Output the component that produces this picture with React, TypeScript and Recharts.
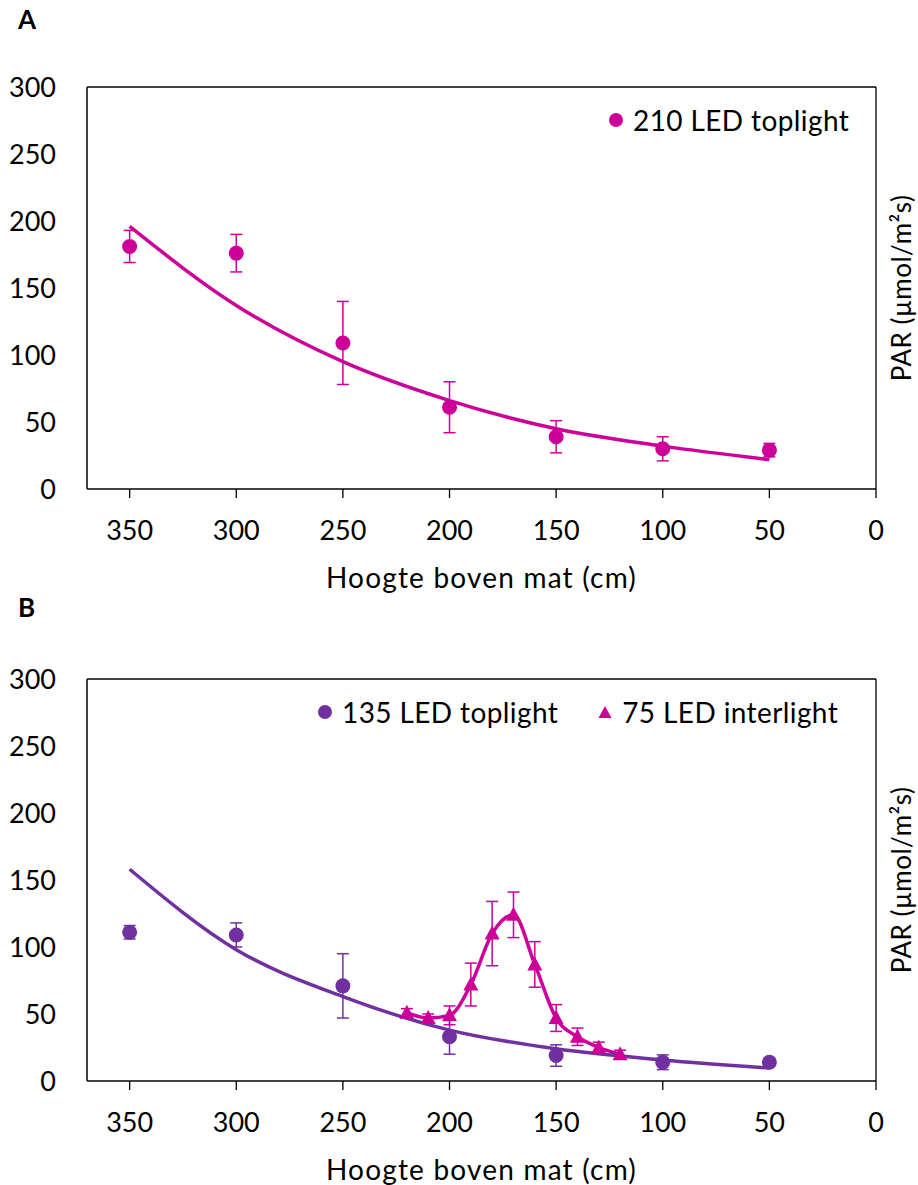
import {
  ComposedChart,
  Scatter,
  Line,
  XAxis,
  YAxis,
  ErrorBar,
  ReferenceLine,
  Legend,
} from "recharts";

// heights above the mat (cm)
const heights = [350, 300, 250, 200, 150, 100, 50];

// A: 210 LED toplight
const parA = [181, 176, 109, 61, 39, 30, 29];
const errA = [12, 14, 31, 19, 12, 9, 5];
const fitA = [196, 137, 95, 66, 45, 32, 22];

// B: 135 LED toplight
const parB = [111, 109, 71, 33, 19, 14, 14];
const errB = [5, 9, 24, 13, 8, 5.5, 3];
const fitB = [158, 98, 63, 38, 24, 15.7, 9.7];

// B: 75 LED interlight
const interHeights = [220, 210, 200, 190, 180, 170, 160, 150, 140, 130, 120];
const interPar = [51, 47, 49, 72, 110, 124, 87, 47, 33, 25, 20];
const interErr = [3, 3, 7, 16, 24, 17, 17, 10, 6.5, 4, 3];

const xTicks = [350, 300, 250, 200, 150, 100, 50, 0];
const yTicks = [0, 50, 100, 150, 200, 250, 300];

const MAGENTA = "#CC0099";
const PURPLE = "#7030A0";
const FONT = "Lato, 'Noto Sans', sans-serif";
const FS = 27;

const toPoints = (xs: number[], ys: number[], errs?: number[]) =>
  xs.map((x, i) => ({ x, y: ys[i], err: errs ? errs[i] : 0 }));

function Dot(props: any) {
  const { cx, cy, fill } = props;
  return <circle cx={cx} cy={cy} r={7.5} fill={fill} />;
}

function Tri(props: any) {
  const { cx, cy, fill } = props;
  return (
    <polygon
      points={`${cx},${cy - 8} ${cx + 7.5},${cy + 6} ${cx - 7.5},${cy + 6}`}
      fill={fill}
    />
  );
}

function LegendContent(props: any) {
  const items = (props.payload || []).filter((p: any) => p.type !== "none");
  return (
    <div
      style={{
        display: "flex",
        alignItems: "center",
        gap: 39,
        fontSize: 28,
        letterSpacing: 0.4,
        lineHeight: "30px",
        color: "#000",
        whiteSpace: "nowrap",
      }}
    >
      {items.map((p: any) => (
        <span key={p.value} style={{ display: "flex", alignItems: "center" }}>
          <svg width={16} height={16} style={{ marginRight: 9 }}>
            {p.type === "triangle" ? (
              <polygon points="8,2 14.5,14 1.5,14" fill={p.color} />
            ) : (
              <circle cx={8} cy={8} r={7} fill={p.color} />
            )}
          </svg>
          {p.value}
        </span>
      ))}
    </div>
  );
}

function frame(legendLeft: number) {
  const tickStyle = { fill: "#000", fontSize: FS };
  return [
    <XAxis
      key="x"
      dataKey="x"
      type="number"
      domain={[0, 370]}
      reversed
      ticks={xTicks}
      height={104}
      tick={tickStyle}
      tickSize={9}
      tickMargin={23}
      axisLine={{ stroke: "#000", strokeWidth: 1.5 }}
      tickLine={{ stroke: "#000", strokeWidth: 1.3 }}
      label={{
        value: "Hoogte boven mat (cm)",
        position: "insideBottom",
        offset: 5,
        style: { fill: "#000", fontSize: 28, letterSpacing: 1.2 },
      }}
    />,
    <YAxis
      key="y"
      type="number"
      domain={[0, 300]}
      ticks={yTicks}
      width={87}
      tick={tickStyle}
      tickSize={0}
      tickMargin={31}
      tickLine={false}
      axisLine={{ stroke: "#000", strokeWidth: 1.5 }}
    />,
    <YAxis
      key="par"
      yAxisId="par"
      orientation="right"
      type="number"
      domain={[0, 300]}
      width={42}
      tick={false}
      tickLine={false}
      axisLine={false}
      label={{
        value: "PAR (µmol/m²s)",
        angle: -90,
        position: "center",
        dx: 5,
        style: { fill: "#000", fontSize: 26, letterSpacing: 0.5 },
      }}
    />,
    <ReferenceLine key="top" y={300} stroke="#000" strokeWidth={1.3} />,
    <ReferenceLine key="right" x={0} stroke="#000" strokeWidth={1.3} />,
    <Legend
      key="legend"
      layout="horizontal"
      verticalAlign="middle"
      align="center"
      content={<LegendContent />}
      wrapperStyle={{ top: 105, left: legendLeft, width: "auto" }}
    />,
  ];
}

const letterStyle = {
  position: "absolute" as const,
  left: 18,
  fontSize: 26,
  fontWeight: 700,
  lineHeight: "30px",
};

export default function App() {
  const dataA = toPoints(heights, parA, errA);
  const lineA = toPoints(heights, fitA);
  const dataB = toPoints(heights, parB, errB);
  const lineB = toPoints(heights, fitB);
  const dataI = toPoints(interHeights, interPar, interErr);

  return (
    <div
      style={{
        position: "absolute",
        left: 0,
        top: 0,
        width: 918,
        height: 1185,
        background: "#fff",
        fontFamily: FONT,
      }}
    >
      <div style={{ ...letterStyle, top: 4 }}>A</div>
      <div style={{ ...letterStyle, top: 592 }}>B</div>

      <div style={{ position: "absolute", left: 0, top: 0 }}>
        <ComposedChart
          width={918}
          height={593}
          margin={{ top: 87, right: 0, bottom: 0, left: 0 }}
        >
          {frame(608)}
          <Line
            data={lineA}
            dataKey="y"
            type="monotone"
            stroke={MAGENTA}
            strokeWidth={3.5}
            dot={false}
            activeDot={false}
            legendType="none"
            isAnimationActive={false}
          />
          <Scatter
            name="210 LED toplight"
            data={dataA}
            dataKey="y"
            fill={MAGENTA}
            shape={Dot}
            legendType="circle"
            isAnimationActive={false}
          >
            <ErrorBar dataKey="err" direction="y" width={6} stroke={MAGENTA} strokeWidth={1.5} />
          </Scatter>
        </ComposedChart>
      </div>

      <div style={{ position: "absolute", left: 0, top: 592 }}>
        <ComposedChart
          width={918}
          height={593}
          margin={{ top: 87, right: 0, bottom: 0, left: 0 }}
        >
          {frame(317)}
          <Line
            data={dataI}
            dataKey="y"
            type="monotone"
            stroke={MAGENTA}
            strokeWidth={3.5}
            dot={false}
            activeDot={false}
            legendType="none"
            isAnimationActive={false}
          />
          <Line
            data={lineB}
            dataKey="y"
            type="monotone"
            stroke={PURPLE}
            strokeWidth={3.5}
            dot={false}
            activeDot={false}
            legendType="none"
            isAnimationActive={false}
          />
          <Scatter
            name="135 LED toplight"
            data={dataB}
            dataKey="y"
            fill={PURPLE}
            shape={Dot}
            legendType="circle"
            isAnimationActive={false}
          >
            <ErrorBar dataKey="err" direction="y" width={6} stroke={PURPLE} strokeWidth={1.5} />
          </Scatter>
          <Scatter
            name="75 LED interlight"
            data={dataI}
            dataKey="y"
            fill={MAGENTA}
            shape={Tri}
            legendType="triangle"
            isAnimationActive={false}
          >
            <ErrorBar dataKey="err" direction="y" width={6} stroke={MAGENTA} strokeWidth={1.5} />
          </Scatter>
        </ComposedChart>
      </div>
    </div>
  );
}
